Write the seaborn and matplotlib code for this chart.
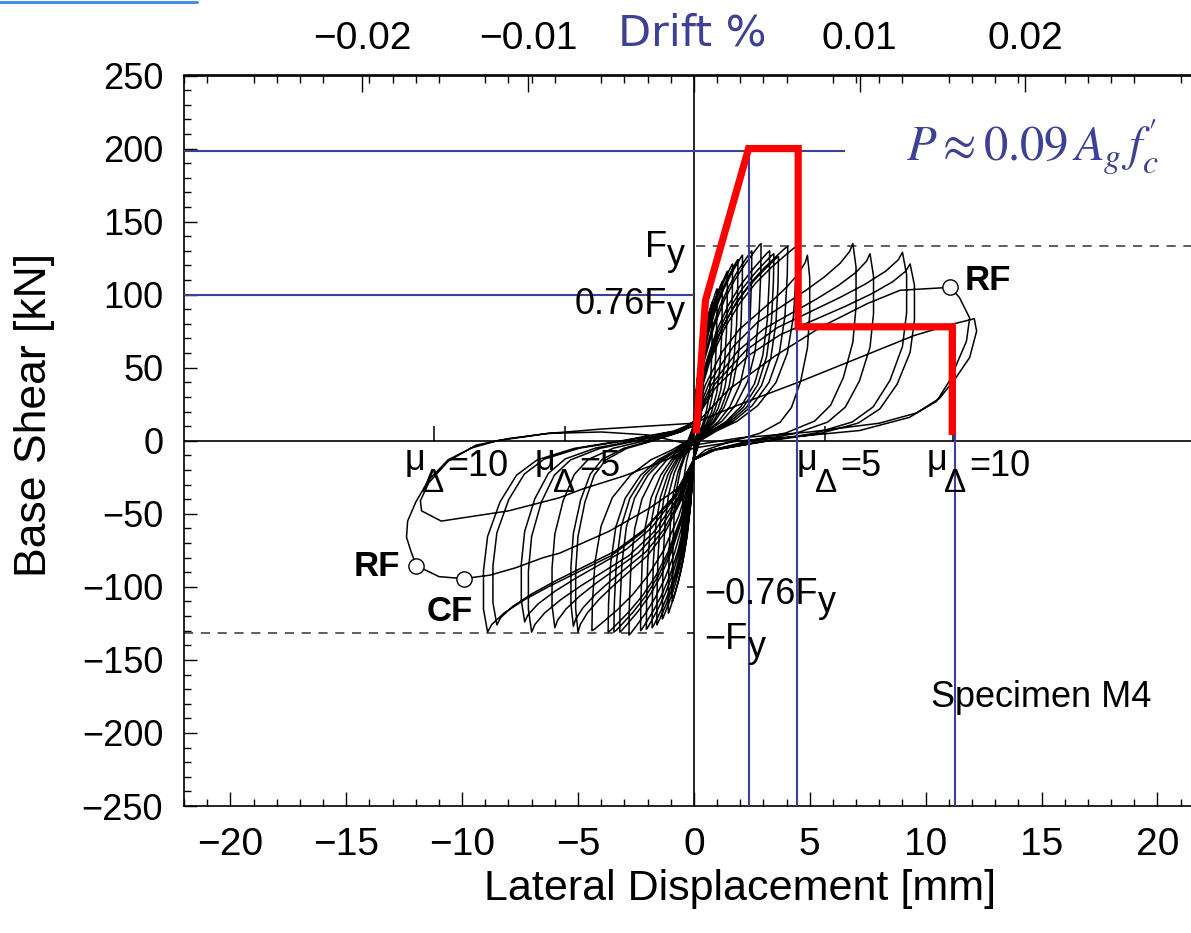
import numpy as np
import pandas as pd
import matplotlib
matplotlib.use("Agg")
import matplotlib.pyplot as plt
import seaborn as sns
from matplotlib.ticker import MultipleLocator, NullLocator
from matplotlib.lines import Line2D

# ---------------- data ----------------
x_major_ticks = [-20, -15, -10, -5, 0, 5, 10, 15, 20]
y_major_ticks = [-250, -200, -150, -100, -50, 0, 50, 100, 150, 200, 250]
drift_ticks = [-0.02, -0.01, 0.0, 0.01, 0.02]
drift_labels = ["\u22120.02", "\u22120.01", "", "0.01", "0.02"]
mm_per_unit_drift = 715.0

# peaks of the hysteresis cycles
cycle_pos_disp = [0.4, 0.8, 1.0, 1.23, 1.45, 1.67, 1.9, 2.1, 2.5, 2.9, 3.27, 3.45, 3.65, 4.05, 4.43, 4.9, 6.86, 7.6, 9.0, 9.33]
cycle_pos_shear = [60, 95, 104, 109, 116, 121, 124, 127, 130, 135, 130, 128, 126, 133, 133, 127, 135, 128, 129, 121]
cycle_neg_disp = [-0.5, -0.93, -1.1, -1.36, -1.6, -1.8, -2.05, -2.3, -2.8, -3.2, -3.7, -3.45, -4.4, -5.0, -5.2, -6.0, -7.0, -7.3, -8.9, -8.5]
cycle_neg_shear = [-75, -110, -118, -122, -126, -128, -129, -130, -133, -131, -131, -131, -130, -131, -127, -128, -131, -124, -131, -126]

# loop outline traced as fractions of a cycle's peak
small_load_u = [0.00, 0.05, 0.15, 0.30, 0.45, 0.60, 0.75, 0.88, 0.97, 1.00]
small_load_v = [0.08, 0.22, 0.40, 0.58, 0.71, 0.81, 0.89, 0.95, 0.99, 1.00]
small_unload_u = [0.995, 0.97, 0.91, 0.80, 0.62, 0.42, 0.22, 0.06]
small_unload_v = [0.85, 0.64, 0.45, 0.30, 0.18, 0.10, 0.05, 0.00]
big_load_u = [0.00, 0.10, 0.25, 0.40, 0.55, 0.70, 0.82, 0.92, 0.98, 1.00]
big_load_v = [0.10, 0.30, 0.48, 0.60, 0.68, 0.76, 0.83, 0.90, 0.96, 1.00]
big_unload_u = [1.02, 1.02, 1.00, 0.94, 0.86, 0.76, 0.58, 0.35, 0.10]
big_unload_v = [0.88, 0.68, 0.50, 0.32, 0.18, 0.10, 0.04, 0.00, -0.05]

# last cycles traced point by point
final_rf_x = [0.0, 1.5, 3.5, 5.5, 7.5, 8.9, 10.0, 11.07, 11.46, 11.9, 11.76, 11.46, 11.03, 10.47, 9.3, 7.15, 4.5, 2.0, 0.0]
final_rf_y = [10, 35, 58, 78, 94, 103, 104, 105, 98, 84, 68, 57, 41, 27, 16, 7, 3, 0, -5]
final_curl_x = [0.0, -1.5, -3.0, -4.8, -5.8, -8.0, -10.9, -11.75, -11.8, -11.45, -10.6, -9.4, -8.0, -6.3, -4.0, -2.0, 0.0]
final_curl_y = [-5, -15, -24, -33, -39, -48, -55, -48, -41, -29, -14, -3, 1.5, 5, 8, 10, 12]
final_pos_x = [0.0, 2.0, 4.5, 7.15, 9.5, 11.2, 12.1, 12.2, 11.9, 11.3, 10.6, 9.6, 8.0, 5.0, 2.0, 0.0]
final_pos_y = [12, 25, 40, 57, 72, 80, 83.5, 75, 57, 43, 29, 19, 12, 6, 2, -3]
final_neg_x = [0.0, -2.0, -4.0, -6.3, -8.5, -9.6, -10.6, -11.45, -12.0, -12.35, -12.4, -12.2, -11.97,
               -11.0, -9.94, -8.8, -7.7, -6.5, -5.8, -3.66, -1.9, 0.0]
final_neg_y = [-3, 4, 6, 5, 0, -5, -13, -27, -42, -55, -66, -76, -85.5, -93, -94.4, -92, -87, -80, -77, -62, -46, -25]

# failure markers
marker_x = [11.07, -11.97, -9.94]
marker_y = [105, -85.5, -94.4]
marker_labels = ["RF", "RF", "CF"]
marker_label_x = [12.7, -13.7, -10.54]
marker_label_y = [110, -86, -117]

# idealised envelope (red) and guide lines (blue)
red_x = [0.1, 0.5, 2.36, 4.5, 4.5, 11.15, 11.15]
red_y = [5, 96, 200, 200, 78, 78, 4]
blue_h_levels = [198, 100]
blue_h_ends = [6.5, 0.0]
blue_v_pos = [2.36, 4.45, 11.28]
blue_v_tops = [198, 198, 78]

fy_pos = 133
fy_neg = -131.5
mu_tick_x = [-11.2, -5.57, 5.64, 11.2]

# ---------------- style ----------------
sns.set_theme(style="ticks")
plt.rcParams["font.family"] = ["Liberation Sans", "DejaVu Sans"]
plt.rcParams["axes.unicode_minus"] = True
for key in ["text.color", "axes.labelcolor", "xtick.color", "ytick.color", "axes.edgecolor"]:
    plt.rcParams[key] = "black"

BLUE = "#3d4195"
W, H = 1191, 933
fig = plt.figure(figsize=(W / 100, H / 100), dpi=100, facecolor="white")
ax = fig.add_axes([184 / W, (H - 806) / H, 1 - 184 / W, (806 - 75.5) / H])
ax.set_facecolor("white")

# hysteresis path
px, py = [], []
for dp, fp, dn, fn in zip(cycle_pos_disp, cycle_pos_shear, cycle_neg_disp, cycle_neg_shear):
    for d, f in ((dp, fp), (dn, fn)):
        if abs(d) > 4.6:
            lu, lv, uu, uv = big_load_u, big_load_v, big_unload_u, big_unload_v
        else:
            lu, lv, uu, uv = small_load_u, small_load_v, small_unload_u, small_unload_v
        px += [u * d for u in lu] + [u * d for u in uu]
        py += [v * f for v in lv] + [v * f for v in uv]
for fx, fyv in ((final_rf_x, final_rf_y), (final_curl_x, final_curl_y),
                (final_pos_x, final_pos_y), (final_neg_x, final_neg_y)):
    px += fx
    py += fyv
df = pd.DataFrame({"disp": px, "shear": py})
sns.lineplot(data=df, x="disp", y="shear", sort=False, estimator=None, color="black",
             lw=1.1, ax=ax, zorder=3)

# axes lines
ax.axhline(0, color="black", lw=1.2, zorder=2)
ax.axvline(0, color="black", lw=1.2, zorder=2)
ax.hlines(fy_pos, 0.1, 21.45, colors="#333333", linestyles=(0, (6, 5)), lw=1.1, zorder=2)
ax.hlines(fy_neg, -22.0, -1.06, colors="#333333", linestyles=(0, (6, 5)), lw=1.1, zorder=2)
ax.hlines([-100.3, fy_neg], -0.3, 0, colors="black", lw=1.1, zorder=2)
ax.vlines(mu_tick_x, 0, 10, colors="black", lw=1.1, zorder=2)

# blue guide lines
ax.hlines(blue_h_levels, -22.0, blue_h_ends, colors=BLUE, lw=1.5, zorder=4)
ax.vlines(blue_v_pos, -250, blue_v_tops, colors=BLUE, lw=1.5, zorder=4)

# red envelope
ax.plot(red_x, red_y, color="#ff0000", lw=5.2, solid_joinstyle="miter", solid_capstyle="butt", zorder=5)

# markers
ax.plot(marker_x, marker_y, ls="none", marker="o", ms=11, mfc="white", mec="black", mew=1.0, zorder=6)
for lab, lx, ly in zip(marker_labels, marker_label_x, marker_label_y):
    ax.text(lx, ly, lab, ha="center", va="center", fontsize=25, fontweight="bold", zorder=7)

# F_y labels
def fy_label(x, y, main, ha):
    t = ax.text(x, y, main, ha=ha, va="baseline", fontsize=26, zorder=7)
    ax.annotate("y", xy=(1, 0), xycoords=t, xytext=(0, 0), textcoords="offset points",
                ha="left", va="baseline", fontsize=26, zorder=7)

fy_label(-1.15, 125.9, "F", "right")
fy_label(-1.15, 86.9, "0.76F", "right")
fy_label(0.45, -111.5, "\u22120.76F", "left")
fy_label(0.45, -142.3, "\u2212F", "left")

# ductility labels
delta_center = [-11.24, -5.6, 5.69, 11.28]
mu_left = [c - 1.25 for c in delta_center]
eq_left = [-10.62, -4.95, 6.33, 11.9]
eq_text = ["=10", "=5", "=5", "=10"]
for ml, dc, el, et in zip(mu_left, delta_center, eq_left, eq_text):
    ax.text(ml, -19.8, "\u03bc", ha="left", va="baseline", fontsize=26, zorder=7)
    ax.text(dc, -35.0, "\u0394", ha="center", va="baseline", fontsize=24, zorder=7)
    ax.text(el, -23.9, et, ha="left", va="baseline", fontsize=26, zorder=7)

ax.text(15.0, -175.8, "Specimen M4", ha="center", va="center", fontsize=26, zorder=7)
ax.text(14.6, 201.0, r"$P \approx 0.09\,A_g\,f_c^{\prime}$", ha="center", va="center",
        fontsize=35, color=BLUE, math_fontfamily="stix", zorder=7)

# limits & ticks
ax.set_xlim(-22.0, 21.45)
ax.set_ylim(-250, 250)
ax.set_xticks(x_major_ticks)
ax.set_xticklabels([("\u2212" + str(abs(v))) if v < 0 else str(v) for v in x_major_ticks], fontsize=28)
ax.set_yticks(y_major_ticks)
ax.set_yticklabels([("\u2212" + str(abs(v))) if v < 0 else str(v) for v in y_major_ticks], fontsize=26)
ax.xaxis.set_minor_locator(MultipleLocator(1))
ax.yaxis.set_minor_locator(MultipleLocator(10))
ax.tick_params(axis="x", which="major", direction="in", length=10, width=1.0, pad=15,
               bottom=True, top=False, colors="black")
ax.tick_params(axis="x", which="minor", direction="in", length=5, width=1.0, bottom=True, top=True)
ax.tick_params(axis="y", which="major", direction="in", length=9, width=1.0, pad=15,
               left=True, right=False, colors="black")
ax.tick_params(axis="y", which="minor", direction="in", length=5, width=1.0, left=True, right=False)
ax.set_xlabel("")
ax.set_ylabel("")
for s in ["left", "bottom", "top"]:
    ax.spines[s].set_color("black")
    ax.spines[s].set_linewidth(1.2)
ax.spines["right"].set_visible(False)

sec = ax.secondary_xaxis("top", functions=(lambda x: x / mm_per_unit_drift,
                                            lambda d: d * mm_per_unit_drift))
sec.set_xticks(drift_ticks)
sec.set_xticklabels(drift_labels, fontsize=28)
sec.xaxis.set_minor_locator(NullLocator())
sec.tick_params(axis="x", which="major", direction="in", length=12, width=1.0, pad=13, colors="black")
sec.spines["top"].set_linewidth(1.2)

# titles / axis labels
fig.text(35 / W, 1 - 415 / H, "Base Shear [kN]", rotation=90, ha="center", va="center", fontsize=32)
fig.text(740 / W, 1 - 889 / H, "Lateral Displacement [mm]", ha="center", va="center", fontsize=31)
fig.text(692 / W, 1 - 33 / H, "Drift %", ha="center", va="center", fontsize=31,
         color=BLUE, fontfamily="DejaVu Sans")
fig.add_artist(Line2D([0, 197 / W], [1 - 1.5 / H, 1 - 1.5 / H], color="#4a90e2", lw=2.2,
                      transform=fig.transFigure))

fig.savefig("out.png", dpi=100, facecolor="white")
